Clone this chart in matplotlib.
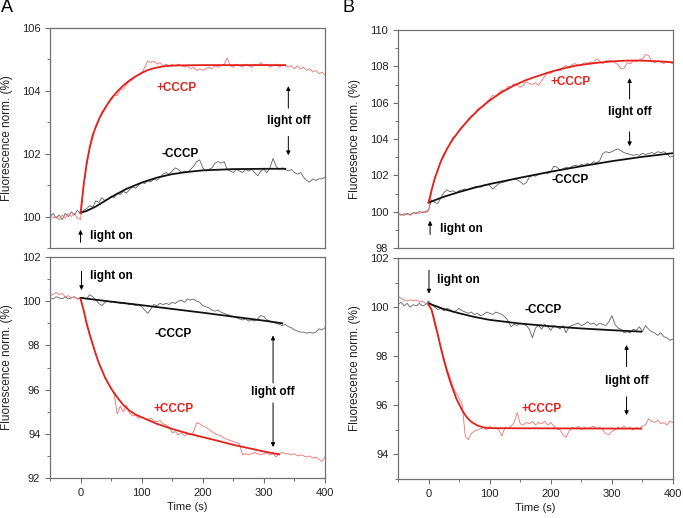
import matplotlib
matplotlib.use('Agg')
import matplotlib.pyplot as plt
from matplotlib.ticker import MultipleLocator

plt.rcParams['font.family'] = ['Liberation Sans', 'DejaVu Sans']

# sampling times of the measured traces (s)
t_trace = [-50, -45, -40, -35, -30, -25, -20, -15, -10, -5, 0,
           5, 10, 15, 20, 25, 30, 35, 40, 45, 50, 55, 60, 65, 70, 75, 80, 85, 90, 95, 100,
           105, 110, 115, 120, 125, 130, 135, 140, 145, 150, 155, 160, 165, 170, 175, 180,
           185, 190, 195, 200, 205, 210, 215, 220, 225, 230, 235, 240, 245, 250, 255, 260,
           265, 270, 275, 280, 285, 290, 295, 300, 305, 310, 315, 320, 325, 330, 335, 340,
           345, 350, 355, 360, 365, 370, 375, 380, 385, 390, 395, 400]

# ---- panel A, top ----
a_top_plus = [100.05, 99.95, 100.0, 99.9, 100.05, 99.95, 100.1, 100.0, 100.1, 99.95, 99.9,
              100.95, 101.6, 102.15, 102.5, 102.9, 103.05, 103.35, 103.4, 103.6, 103.7,
              103.85, 103.85, 104.05, 104.05, 104.2, 104.3, 104.35, 104.45, 104.5, 104.55,
              104.75, 104.95, 104.9, 104.95, 104.85, 104.9, 104.8, 104.85, 104.8, 104.85,
              104.8, 104.85, 104.8, 104.75, 104.8, 104.7, 104.75, 104.65, 104.7, 104.65,
              104.7, 104.75, 104.7, 104.8, 104.75, 104.8, 104.85, 105.05, 104.8, 104.75,
              104.85, 104.8, 104.75, 104.85, 104.8, 104.75, 104.85, 104.8, 104.9, 104.8,
              104.85, 104.75, 104.8, 104.85, 104.75, 104.8, 104.8, 104.75, 104.8, 104.7,
              104.8, 104.7, 104.75, 104.65, 104.7, 104.6, 104.65, 104.55, 104.6, 104.5]
a_top_minus = [100.0, 100.1, 99.95, 100.05, 99.9, 100.1, 100.0, 100.15, 100.05, 100.2, 100.1,
               100.2, 100.25, 100.35, 100.3, 100.5, 100.45, 100.6, 100.5, 100.55, 100.65,
               100.6, 100.75, 100.7, 100.8, 100.75, 100.85, 100.95, 100.9, 101.0, 101.1,
               101.05, 101.15, 101.1, 101.2, 101.15, 101.25, 101.35, 101.4, 101.35, 101.45,
               101.55, 101.5, 101.4, 101.45, 101.4, 101.5, 101.6, 101.75, 101.8, 101.55,
               101.45, 101.5, 101.55, 101.7, 101.75, 101.7, 101.75, 101.5, 101.45, 101.4,
               101.5, 101.45, 101.4, 101.5, 101.45, 101.5, 101.4, 101.3, 101.45, 101.5,
               101.4, 101.55, 101.85, 101.6, 101.5, 101.55, 101.5, 101.45, 101.5, 101.4,
               101.35, 101.4, 101.25, 101.15, 101.1, 101.2, 101.15, 101.2, 101.2, 101.25]
a_top_plus_fit_t = [0, 5, 10, 15, 20, 30, 40, 50, 60, 70, 80, 90, 100, 110, 120, 130, 140, 160, 200, 335]
a_top_plus_fit = [100.1, 101.0, 101.7, 102.2, 102.6, 103.1, 103.45, 103.75, 103.98, 104.17,
                  104.33, 104.46, 104.57, 104.66, 104.72, 104.76, 104.79, 104.81, 104.82, 104.82]
a_top_minus_fit_t = [0, 10, 25, 50, 75, 100, 125, 150, 175, 200, 250, 300, 335]
a_top_minus_fit = [100.12, 100.18, 100.32, 100.62, 100.88, 101.08, 101.24, 101.35, 101.42,
                   101.47, 101.51, 101.52, 101.52]

# ---- panel A, bottom ----
a_bot_plus = [100.25, 100.3, 100.4, 100.3, 100.35, 100.2, 100.25, 100.15, 100.2, 100.1, 100.15,
              99.6, 98.9, 98.45, 98.0, 97.6, 97.2, 96.9, 96.55, 96.3, 96.05,
              95.8, 94.9, 95.25, 95.0, 95.3, 94.95, 94.8, 94.85, 94.7, 94.75,
              94.7, 94.65, 94.7, 94.6, 94.55, 94.6, 94.45, 94.4, 94.3, 94.05,
              94.1, 93.95, 94.05, 93.9, 94.0, 93.95, 94.1, 94.5, 94.45, 94.35,
              94.3, 94.2, 94.1, 94.0, 93.95, 93.9, 93.8, 93.75, 93.7, 93.65,
              93.6, 93.55, 93.05, 93.1, 93.05, 93.1, 93.15, 93.1, 93.05, 93.1,
              93.15, 93.05, 93.1, 92.95, 93.1, 93.15, 93.1, 93.1, 93.05, 93.1,
              93.0, 93.05, 93.0, 92.95, 93.0, 92.9, 92.95, 92.85, 92.75, 92.95]
a_bot_minus = [100.15, 100.1, 100.2, 100.15, 100.1, 100.2, 100.1, 100.15, 100.2, 100.1, 100.15,
               100.15, 100.1, 100.3, 100.2, 100.05, 99.9, 99.8, 99.95, 100.0, 99.95,
               100.0, 99.95, 99.9, 99.95, 99.9, 99.85, 99.9, 99.8, 99.85, 99.75,
               99.6, 99.45, 99.65, 99.85, 99.8, 99.9, 99.85, 99.9, 99.85, 99.95,
               99.9, 100.0, 100.05, 99.95, 100.1, 100.05, 100.1, 100.0, 99.95, 99.8,
               99.75, 99.7, 99.6, 99.55, 99.6, 99.5, 99.45, 99.4, 99.35, 99.3,
               99.25, 99.2, 99.15, 99.2, 99.1, 99.15, 99.1, 99.2, 99.35, 99.3,
               99.15, 99.1, 99.05, 99.0, 98.95, 98.9, 98.95, 98.85, 98.8, 98.7,
               98.65, 98.6, 98.6, 98.55, 98.6, 98.55, 98.6, 98.75, 98.7, 98.8]
a_bot_plus_fit_t = [0, 5, 10, 15, 20, 25, 30, 40, 50, 60, 70, 80, 90, 100, 125, 150, 175,
                    200, 225, 250, 275, 300, 325]
a_bot_plus_fit = [100.1, 99.6, 99.0, 98.5, 98.05, 97.6, 97.2, 96.55, 96.05, 95.65, 95.3, 95.05,
                  94.87, 94.75, 94.45, 94.22, 94.02, 93.85, 93.68, 93.5, 93.35, 93.2, 93.07]
a_bot_minus_fit_t = [0, 50, 100, 150, 200, 250, 300, 330]
a_bot_minus_fit = [100.15, 99.98, 99.82, 99.65, 99.48, 99.3, 99.12, 99.0]

# ---- panel B, top ----
b_top_plus = [99.85, 99.8, 99.9, 99.85, 99.8, 99.9, 99.95, 99.9, 100.0, 99.95, 100.05,
              101.1, 101.9, 102.2, 102.8, 103.2, 103.4, 103.75, 104.1, 104.2, 104.5,
              104.7, 104.85, 105.1, 105.3, 105.35, 105.65, 105.75, 105.8, 106.05, 106.2,
              106.4, 106.35, 106.55, 106.7, 106.65, 106.9, 106.85, 107.05, 106.95, 106.85,
              106.95, 107.15, 107.05, 107.0, 107.1, 106.95, 107.2, 107.45, 107.65, 107.6,
              107.75, 107.8, 107.75, 107.95, 108.05, 107.95, 108.1, 108.15, 108.05, 108.1,
              108.2, 108.15, 108.25, 108.2, 108.4, 108.3, 108.15, 108.3, 108.35, 108.3,
              108.2, 108.1, 107.85, 107.9, 108.2, 108.15, 108.3, 108.25, 108.35, 108.4,
              108.65, 108.6, 108.3, 108.2, 108.3, 108.25, 108.15, 108.3, 108.2, 108.15]
b_top_minus = [99.9, 99.85, 99.8, 99.9, 99.85, 99.95, 99.9, 100.0, 99.95, 100.0, 100.1,
               100.65, 100.5, 100.45, 100.75, 101.05, 101.2, 101.1, 101.15, 101.05, 101.15,
               101.2, 101.25, 101.2, 101.3, 101.35, 101.4, 101.35, 101.45, 101.5, 101.45,
               101.25, 101.4, 101.55, 101.6, 101.65, 101.7, 101.75, 101.8, 101.75, 101.65,
               101.5, 101.6, 101.9, 102.0, 101.95, 102.05, 102.1, 102.15, 102.1, 102.2,
               102.5, 102.45, 102.3, 102.35, 102.45, 102.4, 102.5, 102.55, 102.5, 102.6,
               102.55, 102.65, 102.6, 102.75, 102.7, 102.8, 103.2, 103.3, 103.25, 103.3,
               103.4, 103.45, 103.35, 103.25, 103.2, 103.15, 103.1, 103.15, 103.1, 103.2,
               103.15, 103.2, 103.25, 103.2, 103.3, 103.25, 103.3, 103.2, 103.0, 103.05]
b_top_plus_fit_t = [0, 5, 10, 15, 20, 30, 40, 50, 60, 70, 80, 90, 100, 120, 140, 160, 180,
                    200, 220, 240, 260, 280, 300, 320, 340, 360, 380, 400]
b_top_plus_fit = [100.5, 101.2, 101.8, 102.3, 102.75, 103.45, 104.0, 104.45, 104.85, 105.22,
                  105.55, 105.85, 106.12, 106.58, 106.95, 107.25, 107.48, 107.7, 107.88,
                  108.03, 108.13, 108.21, 108.27, 108.31, 108.32, 108.3, 108.27, 108.22]
b_top_minus_fit_t = [0, 25, 50, 75, 100, 150, 200, 250, 300, 350, 400]
b_top_minus_fit = [100.5, 100.82, 101.08, 101.32, 101.52, 101.87, 102.2, 102.5, 102.78, 103.02, 103.22]

# ---- panel B, bottom ----
b_bot_plus = [100.45, 100.35, 100.3, 100.25, 100.3, 100.25, 100.3, 100.2, 100.25, 100.15, 100.1,
              99.85, 99.3, 98.85, 98.4, 97.95, 97.5, 97.15, 96.75, 96.5, 96.3,
              96.05, 94.75, 94.6, 94.85, 94.95, 95.0, 95.05, 95.1, 95.0, 95.15,
              95.05, 95.1, 95.0, 94.75, 95.1, 95.05, 95.15, 95.3, 95.7, 95.25,
              95.2, 95.3, 95.25, 95.35, 95.2, 95.3, 95.25, 95.35, 95.2, 95.3,
              95.15, 95.05, 95.0, 94.8, 94.7, 94.95, 95.1, 95.05, 95.15, 95.0,
              95.1, 95.05, 95.1, 95.15, 95.05, 95.1, 95.0, 94.85, 94.8, 94.95,
              95.0, 95.1, 95.05, 95.15, 95.05, 95.1, 95.0, 95.1, 95.05, 95.15,
              95.2, 95.45, 95.35, 95.3, 95.4, 95.25, 95.3, 95.2, 95.35, 95.3]
b_bot_minus = [100.1, 100.2, 100.05, 100.15, 100.0, 100.1, 100.05, 100.15, 100.05, 100.1, 100.25,
               100.1, 100.0, 99.9, 99.95, 99.85, 99.95, 99.9, 99.8, 99.85, 99.95,
               99.85, 99.8, 99.75, 99.8, 99.7, 99.75, 99.65, 99.7, 99.8, 99.75,
               99.7, 99.8, 99.75, 99.7, 99.6, 99.45, 99.2, 99.3, 99.25, 99.35,
               99.3, 99.25, 99.1, 98.75, 99.15, 99.25, 99.1, 99.3, 99.2, 99.05,
               99.25, 99.2, 99.1, 99.25, 98.95, 99.2, 99.25, 99.3, 99.35, 99.25,
               99.3, 99.4, 99.3, 99.35, 99.25, 99.35, 99.3, 99.25, 99.4, 99.65,
               99.3, 99.15, 99.1, 98.95, 99.0, 98.95, 99.1, 99.05, 99.2, 99.0,
               99.25, 99.1, 99.0, 98.95, 98.85, 98.95, 98.8, 98.75, 98.65, 98.7]
b_bot_plus_fit_t = [0, 5, 10, 15, 20, 25, 30, 35, 40, 45, 50, 55, 60, 65, 70, 75, 80, 90, 100, 348]
b_bot_plus_fit = [100.1, 99.9, 99.4, 98.9, 98.35, 97.85, 97.4, 97.0, 96.65, 96.3, 96.05, 95.8,
                  95.6, 95.45, 95.33, 95.25, 95.18, 95.1, 95.07, 95.05]
b_bot_minus_fit_t = [0, 25, 50, 75, 100, 150, 200, 250, 300, 348]
b_bot_minus_fit = [100.15, 99.92, 99.75, 99.6, 99.48, 99.33, 99.22, 99.13, 99.06, 99.0]

RED = '#e3211c'
RED_TR = '#f07070'
BLK = '#111111'
GRY = '#606060'
SPINE = '#707070'

fig = plt.figure(figsize=(6.83, 5.18), dpi=100)
W, H = 683.0, 518.0


def make_axes(x0, y0, x1, y1):
    return fig.add_axes([x0 / W, 1 - y1 / H, (x1 - x0) / W, (y1 - y0) / H])


def style(ax, ylim, ymajor, ylabel, bottom):
    ax.set_xlim(-50, 400)
    ax.set_ylim(*ylim)
    ax.xaxis.set_major_locator(MultipleLocator(100))
    ax.xaxis.set_minor_locator(MultipleLocator(50))
    ax.yaxis.set_major_locator(MultipleLocator(ymajor))
    ax.yaxis.set_minor_locator(MultipleLocator(ymajor / 2))
    for s in ax.spines.values():
        s.set_color(SPINE)
        s.set_linewidth(0.9)
    ax.tick_params(which='both', direction='out', colors=SPINE, labelcolor='#222222',
                   labelsize=8, right=False, top=False)
    ax.tick_params(which='major', length=3.5, width=0.8)
    ax.tick_params(which='minor', length=2, width=0.7)
    if bottom:
        ax.set_xlabel('Time (s)', fontsize=8, color='#222222', labelpad=3)
    else:
        ax.tick_params(axis='x', which='both', bottom=False, labelbottom=False)
    ax.set_ylabel(ylabel, fontsize=8.5, color='#222222', labelpad=6)


def traces(ax, plus, minus, pfit_t, pfit, mfit_t, mfit):
    ax.plot(t_trace, minus, color=GRY, lw=0.6)
    ax.plot(t_trace, plus, color=RED_TR, lw=0.6)
    ax.plot(mfit_t, mfit, color=BLK, lw=1.3)
    ax.plot(pfit_t, pfit, color=RED, lw=1.3)


def arrow(ax, tail, head):
    ax.annotate('', xy=head, xytext=tail,
                arrowprops=dict(arrowstyle='-|>', color='black', lw=0.7,
                                mutation_scale=6, shrinkA=0, shrinkB=0))


def label(ax, x, y, s, color='black', ha='center'):
    ax.text(x, y, s, color=color, fontsize=8.5, fontweight='bold', ha=ha, va='center')


# A top
ax1 = make_axes(50, 28, 325, 248)
traces(ax1, a_top_plus, a_top_minus, a_top_plus_fit_t, a_top_plus_fit,
       a_top_minus_fit_t, a_top_minus_fit)
style(ax1, (99, 106), 2, 'Fluorescence norm. (%)', False)
arrow(ax1, (0, 99.18), (0, 99.58))
label(ax1, 16, 99.38, 'light on', ha='left')
label(ax1, 340, 103.03, 'light off')
arrow(ax1, (340, 103.45), (340, 104.15))
arrow(ax1, (340, 102.55), (340, 101.95))
label(ax1, 157, 104.1, '+CCCP', color=RED)
label(ax1, 163, 101.98, '-CCCP')

# A bottom
ax2 = make_axes(50, 257, 325, 478)
traces(ax2, a_bot_plus, a_bot_minus, a_bot_plus_fit_t, a_bot_plus_fit,
       a_bot_minus_fit_t, a_bot_minus_fit)
style(ax2, (92, 102), 2, 'Fluorescence norm. (%)', True)
arrow(ax2, (1.5, 101.35), (1.5, 100.5))
label(ax2, 15, 101.15, 'light on', ha='left')
label(ax2, 152, 98.53, '-CCCP')
label(ax2, 315, 95.88, 'light off')
arrow(ax2, (315, 96.3), (315, 98.45))
arrow(ax2, (315, 95.4), (315, 93.4))
label(ax2, 153, 95.14, '+CCCP', color=RED)

# B top
ax3 = make_axes(398, 30, 673, 248)
traces(ax3, b_top_plus, b_top_minus, b_top_plus_fit_t, b_top_plus_fit,
       b_top_minus_fit_t, b_top_minus_fit)
style(ax3, (98, 110), 2, 'Fluoresence norm. (%)', False)
arrow(ax3, (2.5, 98.74), (2.5, 99.5))
label(ax3, 18, 99.07, 'light on', ha='left')
label(ax3, 233, 107.16, '+CCCP', color=RED)
label(ax3, 329, 105.46, 'light off')
arrow(ax3, (329, 106.2), (329, 107.35))
arrow(ax3, (329, 104.4), (329, 103.6))
label(ax3, 231, 101.76, '-CCCP')

# B bottom
ax4 = make_axes(398, 258, 673, 479)
traces(ax4, b_bot_plus, b_bot_minus, b_bot_plus_fit_t, b_bot_plus_fit,
       b_bot_minus_fit_t, b_bot_minus_fit)
style(ax4, (93, 102), 2, 'Fluorescence norm. (%)', True)
ax4.yaxis.set_minor_locator(MultipleLocator(1))
arrow(ax4, (0.7, 101.5), (0.7, 100.55))
label(ax4, 14, 101.12, 'light on', ha='left')
label(ax4, 187, 99.9, '-CCCP')
label(ax4, 324, 97.0, 'light off')
arrow(ax4, (324, 97.58), (324, 98.46))
arrow(ax4, (324, 96.35), (324, 95.6))
label(ax4, 185, 95.84, '+CCCP', color=RED)

fig.text(1 / W, 1 - 8 / H, 'A', fontsize=13, va='center', ha='left')
fig.text(342 / W, 1 - 8 / H, 'B', fontsize=13, va='center', ha='left')

fig.savefig('out.png', dpi=100)
